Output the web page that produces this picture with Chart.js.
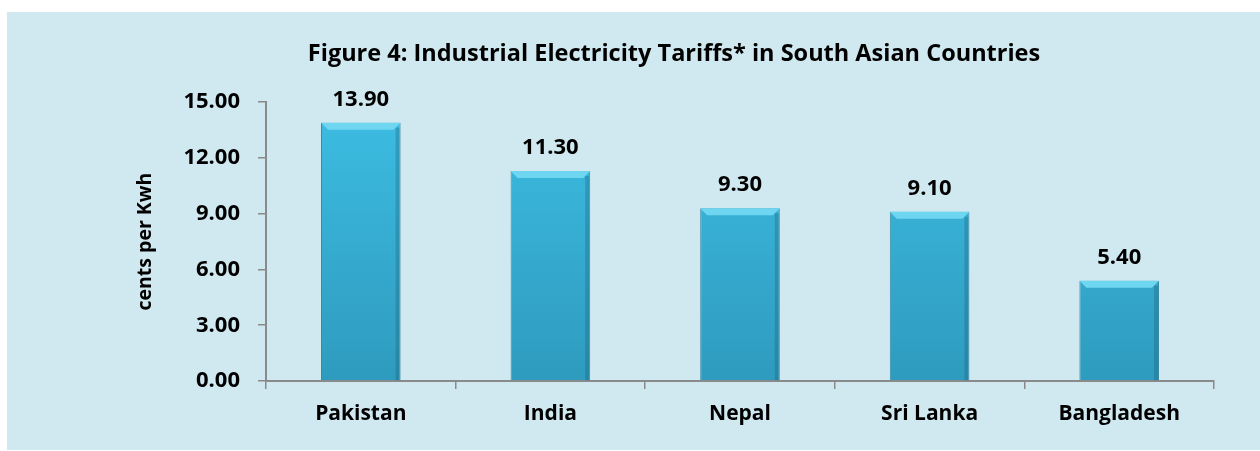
<!DOCTYPE html>
<html>
<head>
<meta charset="utf-8">
<script src="https://cdn.jsdelivr.net/npm/chart.js@4.4.0/dist/chart.umd.min.js"></script>
<style>
    html, body { margin: 0; padding: 0; background: #ffffff; }
    #panel {
        position: absolute; left: 7px; top: 12px;
        width: 1253px; height: 438px;
        background: #d0e8f0;
    }
</style>
</head>
<body>
<div id="panel"><canvas id="tariffChart" width="1253" height="438"></canvas></div>
<script>
const countries = ['Pakistan', 'India', 'Nepal', 'Sri Lanka', 'Bangladesh'];
const tariffs = [13.90, 11.30, 9.30, 9.10, 5.40];
const yTicks = [0, 3, 6, 9, 12, 15];

const axisGray = '#8a8a8a';
const textFont = '"Open Sans", Lato, sans-serif';

// value labels + bevel on top of each bar
const barExtras = {
    id: 'barExtras',
    afterDatasetsDraw(chart) {
        const ctx = chart.ctx;
        const meta = chart.getDatasetMeta(0);
        meta.data.forEach((bar, i) => {
            const half = bar.width / 2;
            const left = bar.x - half, right = bar.x + half;
            ctx.save();
            ctx.fillStyle = '#6fd6f2';
            ctx.beginPath();
            ctx.moveTo(left, bar.y);
            ctx.lineTo(right, bar.y);
            ctx.lineTo(right - 7, bar.y + 7);
            ctx.lineTo(left + 7, bar.y + 7);
            ctx.closePath();
            ctx.fill();
            ctx.fillStyle = 'rgba(20,70,90,0.25)';
            ctx.fillRect(right - 5, bar.y + 5, 4, bar.base - bar.y - 5);
            ctx.restore();

            ctx.save();
            ctx.fillStyle = '#000';
            ctx.font = 'bold 22px ' + textFont;
            ctx.textAlign = 'center';
            ctx.textBaseline = 'middle';
            ctx.fillText(tariffs[i].toFixed(2), bar.x, bar.y - 23);
            ctx.restore();
        });
    }
};

new Chart(document.getElementById('tariffChart'), {
    type: 'bar',
    data: {
        labels: countries,
        datasets: [{
            label: 'cents per Kwh',
            data: tariffs,
            backgroundColor: (c) => {
                const area = c.chart.chartArea;
                if (!area) return '#36acd2';
                const g = c.chart.ctx.createLinearGradient(0, area.top, 0, area.bottom);
                g.addColorStop(0, '#3dbde3');
                g.addColorStop(1, '#2e9bbe');
                return g;
            },
            borderColor: '#3a8aa4',
            borderWidth: 1,
            categoryPercentage: 1,
            barPercentage: 0.42,
        }]
    },
    options: {
        responsive: false,
        animation: false,
        layout: { padding: { left: 127, right: 46, top: 0, bottom: 0 } },
        plugins: {
            legend: { display: false },
            tooltip: { enabled: false },
            title: {
                display: true,
                text: 'Figure 4: Industrial Electricity Tariffs* in South Asian Countries',
                color: '#000',
                font: { family: textFont, size: 23.5, weight: 'bold' },
                padding: { top: 28, bottom: 34 }
            }
        },
        scales: {
            x: {
                ticks: {
                    color: '#000',
                    font: { family: textFont, size: 21, weight: 'bold' },
                    padding: 12
                },
                grid: {
                    drawOnChartArea: false,
                    drawTicks: true,
                    tickLength: 8,
                    color: axisGray,
                    lineWidth: 1.5
                },
                border: { color: axisGray, width: 2 },
                afterFit: (scale) => { scale.height = 69; }
            },
            y: {
                min: 0,
                max: 15,
                afterBuildTicks: (scale) => { scale.ticks = yTicks.map(v => ({ value: v })); },
                ticks: {
                    color: '#000',
                    font: { family: textFont, size: 22, weight: 'bold' },
                    padding: 18,
                    callback: (v) => Number(v).toFixed(2)
                },
                grid: {
                    drawOnChartArea: false,
                    drawTicks: true,
                    tickLength: 8,
                    color: axisGray,
                    lineWidth: 1.5
                },
                border: { color: axisGray, width: 2 },
                title: {
                    display: true,
                    text: 'cents per Kwh',
                    color: '#000',
                    font: { family: textFont, size: 19.5, weight: 'bold' },
                    padding: 0
                },
                afterFit: (scale) => { scale.width = 132; }
            }
        }
    },
    plugins: [barExtras]
});
</script>
</body>
</html>
